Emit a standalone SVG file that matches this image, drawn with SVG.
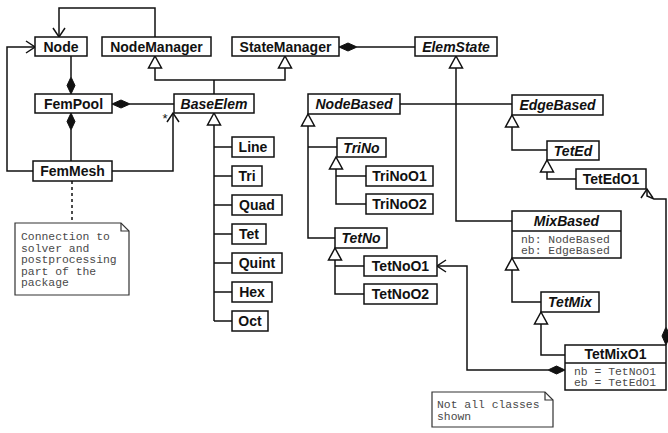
<svg xmlns="http://www.w3.org/2000/svg" width="668" height="433" viewBox="0 0 668 433">
  <style>
    .box { fill: #fff; stroke: #111; stroke-width: 1.5; }
    .cls { font-family: "Liberation Sans", Arial, sans-serif; font-size: 14px; font-weight: bold; fill: #111; text-anchor: middle; }
    .abs { font-style: italic; }
    .mono { font-family: "Liberation Mono", "Courier New", monospace; font-size: 11.4px; fill: #4a4a4a; }
    .line { fill: none; stroke: #111; stroke-width: 1.5; }
    .tri { fill: #fff; stroke: #111; stroke-width: 1.5; stroke-linejoin: miter; }
    .dia { fill: #111; stroke: #111; stroke-width: 1; }
    .open { fill: none; stroke: #111; stroke-width: 1.5; }
    .note { fill: #fff; stroke: #333; stroke-width: 1.2; }
    .dash { fill: none; stroke: #111; stroke-width: 1.5; stroke-dasharray: 3 3; }
  </style>

  <!-- connectors -->
  <g id="connectors">
    <!-- NodeManager -> Node navigation -->
    <path class="line" d="M155,37 V8 H59 V37"/>
    <path class="open" d="M53,28 L59,37 L65,28"/>
    <!-- FemMesh -> Node navigation -->
    <path class="line" d="M33,171 H7 V47 H35"/>
    <path class="open" d="M26,41 L35,47 L26,53"/>
    <!-- Node composed in FemPool -->
    <path class="line" d="M71,56 V77"/>
    <polygon class="dia" points="71,77 75,85.5 71,94 67,85.5"/>
    <!-- FemPool owns FemMesh -->
    <polygon class="dia" points="71,113 75,121.5 71,130 67,121.5"/>
    <path class="line" d="M71,130 V161"/>
    <!-- FemPool owns BaseElem -->
    <polygon class="dia" points="112,104 121,100 130,104 121,108"/>
    <path class="line" d="M130,104 H174"/>
    <!-- FemMesh -> BaseElem (*) -->
    <path class="line" d="M112,171 H173 V113"/>
    <path class="open" d="M167,122 L173,113 L179,122"/>
    <text x="165" y="123" class="cls" style="font-size:13px;font-weight:normal">*</text>
    <!-- BaseElem generalisations -->
    <path class="line" d="M155,68 V80 H285 V68 M214,80 V94"/>
    <polygon class="tri" points="155,56 161.5,68 148.5,68"/>
    <polygon class="tri" points="285,56 291.5,68 278.5,68"/>
    <!-- StateManager owns ElemState -->
    <polygon class="dia" points="339,47 348,43 357,47 348,51"/>
    <path class="line" d="M357,47 H415"/>
    <!-- ElemState hierarchy -->
    <path class="line" d="M456,68 V221 H512"/>
    <polygon class="tri" points="456,56 462.5,68 449.5,68"/>
    <path class="line" d="M400,104 H512"/>
    <!-- BaseElem subclasses -->
    <path class="line" d="M214,125 V321 M214,147 H232 M214,176 H232 M214,205 H232 M214,234 H232 M214,263 H232 M214,292 H232 M214,321 H232"/>
    <polygon class="tri" points="214,113 220.5,125 207.5,125"/>
    <!-- NodeBased subclasses -->
    <path class="line" d="M308,126 V238 H335 M308,147 H337"/>
    <polygon class="tri" points="308,114 314.5,126 301.5,126"/>
    <path class="line" d="M336,169 V204 H366 M336,176 H366"/>
    <polygon class="tri" points="336,157 342.5,169 329.5,169"/>
    <path class="line" d="M335,260 V294 H364 M335,266 H364"/>
    <polygon class="tri" points="335,248 341.5,260 328.5,260"/>
    <!-- EdgeBased subclasses -->
    <path class="line" d="M512,127 V150 H547"/>
    <polygon class="tri" points="512,115 518.5,127 505.5,127"/>
    <path class="line" d="M547,172 V179 H576"/>
    <polygon class="tri" points="547,160 553.5,172 540.5,172"/>
    <!-- MixBased subclasses -->
    <path class="line" d="M512,270 V302 H541"/>
    <polygon class="tri" points="512,258 518.5,270 505.5,270"/>
    <path class="line" d="M541,324 V355 H565"/>
    <polygon class="tri" points="541,312 547.5,324 534.5,324"/>
    <!-- TetMixO1 owns TetNoO1 -->
    <polygon class="dia" points="565,370 556.5,366 548,370 556.5,374"/>
    <path class="line" d="M548,370 H467 V266 H437"/>
    <path class="open" d="M446,260 L437,266 L446,272"/>
    <!-- TetMixO1 owns TetEdO1 -->
    <path class="line" d="M647,189 V196 L654,199 H666 V327"/>
    <path class="open" d="M641,198 L647,189 L653,198"/>
    <polygon class="dia" points="666,327 670,336 666,345 662,336"/>
    <!-- note anchor -->
    <path class="dash" d="M72,181 V223"/>
  </g>

  <!-- classes -->
  <g id="Node"><rect class="box" x="35" y="37" width="52" height="19"/><text class="cls" x="61" y="51.5">Node</text></g>
  <g id="NodeManager"><rect class="box" x="102" y="37" width="109" height="19"/><text class="cls" x="156.5" y="51.5">NodeManager</text></g>
  <g id="StateManager"><rect class="box" x="232" y="37" width="107" height="19"/><text class="cls" x="285.5" y="51.5">StateManager</text></g>
  <g id="ElemState"><rect class="box" x="415" y="37" width="82" height="19"/><text class="cls abs" x="456" y="51.5">ElemState</text></g>
  <g id="FemPool"><rect class="box" x="35" y="94" width="77" height="19"/><text class="cls" x="73.5" y="108.5">FemPool</text></g>
  <g id="BaseElem"><rect class="box" x="174" y="94" width="80" height="19"/><text class="cls abs" x="214" y="108.5">BaseElem</text></g>
  <g id="NodeBased"><rect class="box" x="308" y="94" width="92" height="20"/><text class="cls abs" x="354" y="109">NodeBased</text></g>
  <g id="EdgeBased"><rect class="box" x="512" y="95" width="91" height="20"/><text class="cls abs" x="557.5" y="110">EdgeBased</text></g>
  <g id="FemMesh"><rect class="box" x="33" y="161" width="79" height="20"/><text class="cls" x="72.5" y="176">FemMesh</text></g>

  <g id="Line"><rect class="box" x="232" y="137" width="42" height="20"/><text class="cls" x="253" y="152">Line</text></g>
  <g id="Tri"><rect class="box" x="232" y="166" width="30" height="20"/><text class="cls" x="247" y="181">Tri</text></g>
  <g id="Quad"><rect class="box" x="232" y="195" width="50" height="20"/><text class="cls" x="257" y="210">Quad</text></g>
  <g id="Tet"><rect class="box" x="232" y="224" width="34" height="20"/><text class="cls" x="249" y="239">Tet</text></g>
  <g id="Quint"><rect class="box" x="232" y="253" width="50" height="20"/><text class="cls" x="257" y="268">Quint</text></g>
  <g id="Hex"><rect class="box" x="232" y="282" width="40" height="20"/><text class="cls" x="252" y="297">Hex</text></g>
  <g id="Oct"><rect class="box" x="232" y="311" width="36" height="20"/><text class="cls" x="250" y="326">Oct</text></g>

  <g id="TriNo"><rect class="box" x="337" y="138" width="49" height="19"/><text class="cls abs" x="361.5" y="152.5">TriNo</text></g>
  <g id="TriNoO1"><rect class="box" x="366" y="166" width="67" height="20"/><text class="cls" x="399.5" y="181">TriNoO1</text></g>
  <g id="TriNoO2"><rect class="box" x="366" y="194" width="67" height="20"/><text class="cls" x="399.5" y="209">TriNoO2</text></g>
  <g id="TetNo"><rect class="box" x="335" y="228" width="52" height="20"/><text class="cls abs" x="361" y="243">TetNo</text></g>
  <g id="TetNoO1"><rect class="box" x="364" y="256" width="73" height="20"/><text class="cls" x="400.5" y="271">TetNoO1</text></g>
  <g id="TetNoO2"><rect class="box" x="364" y="284" width="73" height="20"/><text class="cls" x="400.5" y="299">TetNoO2</text></g>

  <g id="TetEd"><rect class="box" x="547" y="141" width="52" height="19"/><text class="cls abs" x="573" y="155.5">TetEd</text></g>
  <g id="TetEdO1"><rect class="box" x="576" y="169" width="70" height="20"/><text class="cls" x="611" y="184">TetEdO1</text></g>

  <g id="MixBased">
    <rect class="box" x="512" y="211" width="109" height="47"/>
    <line class="line" x1="512" y1="231" x2="621" y2="231"/>
    <text class="cls abs" x="566.5" y="226">MixBased</text>
    <text class="mono" x="521" y="243">nb: NodeBased</text>
    <text class="mono" x="521" y="254">eb: EdgeBased</text>
  </g>
  <g id="TetMix"><rect class="box" x="541" y="292" width="58" height="20"/><text class="cls abs" x="570" y="307">TetMix</text></g>
  <g id="TetMixO1">
    <rect class="box" x="565" y="345" width="101" height="45"/>
    <line class="line" x1="565" y1="363" x2="666" y2="363"/>
    <text class="cls" x="615.5" y="359">TetMixO1</text>
    <text class="mono" x="574" y="375">nb = TetNoO1</text>
    <text class="mono" x="574" y="386">eb = TetEdO1</text>
  </g>

  <!-- notes -->
  <g id="note-solver">
    <polygon class="note" points="15,223 121,223 129,231 129,295 15,295"/>
    <path class="note" d="M121,223 V231 H129" style="fill:none"/>
    <text class="mono" x="21" y="240">Connection to</text>
    <text class="mono" x="21" y="251.5">solver and</text>
    <text class="mono" x="21" y="263">postprocessing</text>
    <text class="mono" x="21" y="274.5">part of the</text>
    <text class="mono" x="21" y="286">package</text>
  </g>
  <g id="note-classes">
    <polygon class="note" points="432,392 545,392 553,400 553,427 432,427"/>
    <path class="note" d="M545,392 V400 H553" style="fill:none"/>
    <text class="mono" x="437" y="408">Not all classes</text>
    <text class="mono" x="437" y="419.5">shown</text>
  </g>
</svg>
